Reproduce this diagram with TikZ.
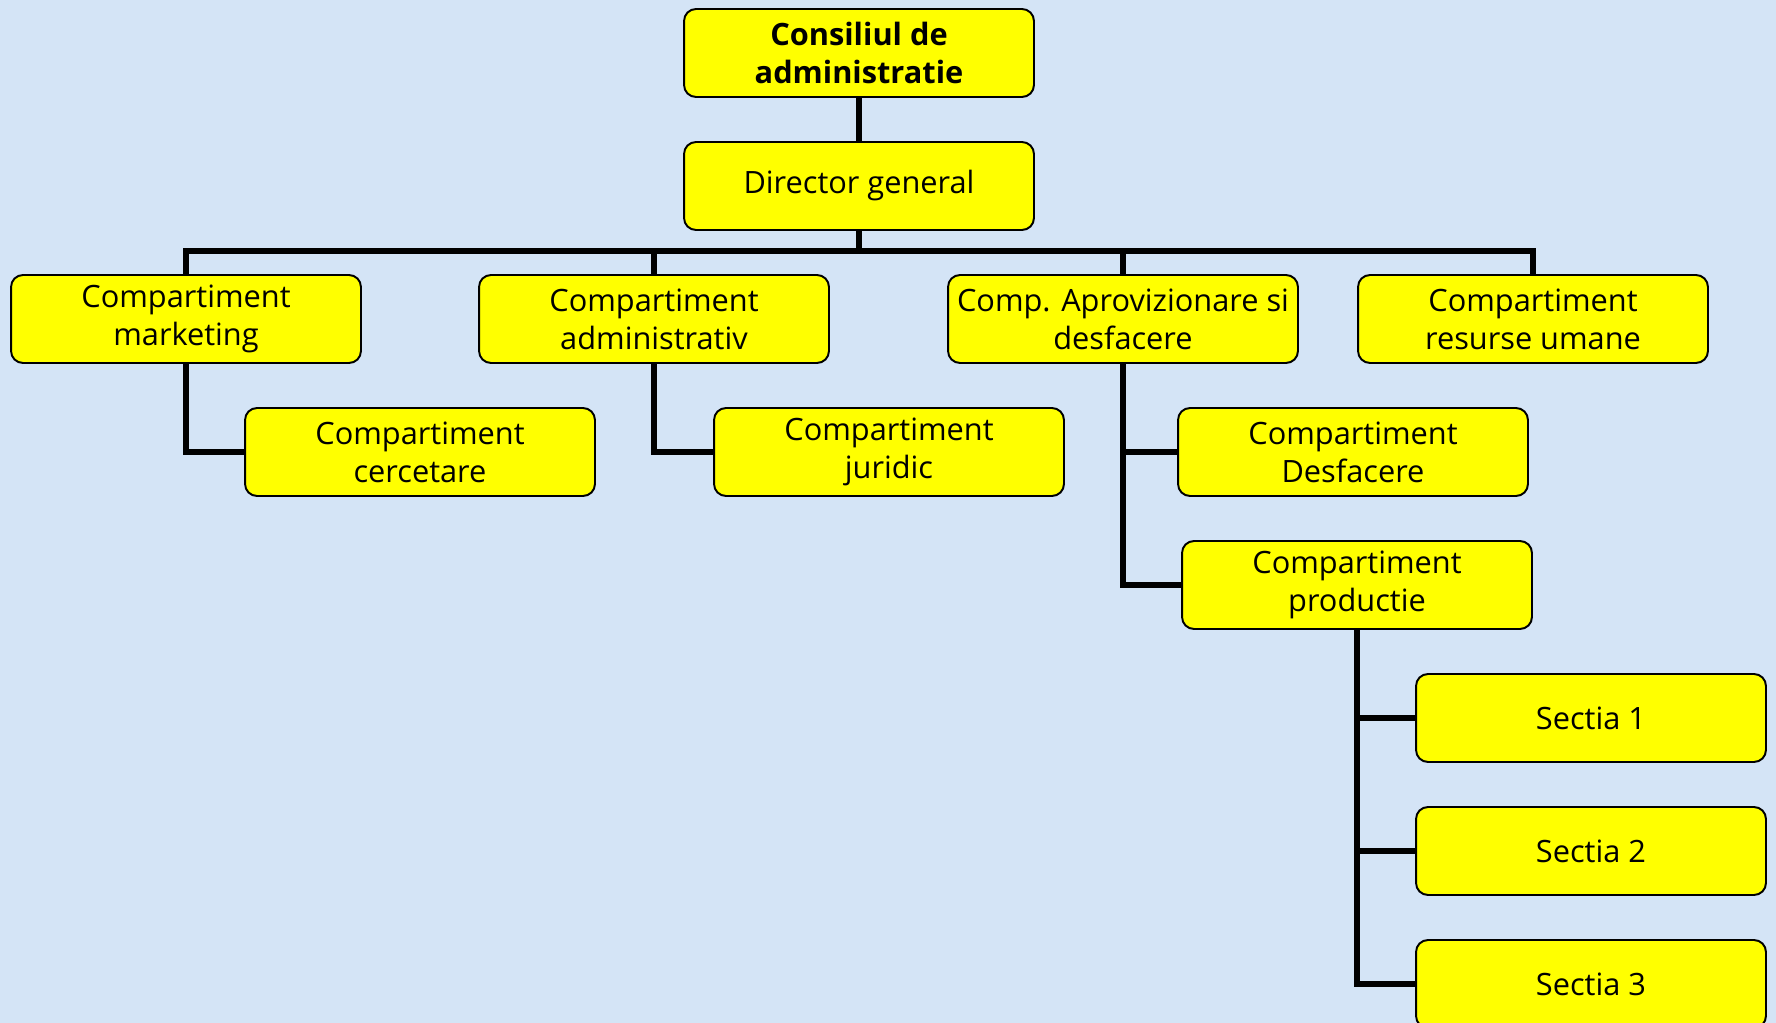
\documentclass[tikz,border=0pt]{standalone}
\usepackage{fontspec}
\setmainfont{Open Sans}
\definecolor{bgblue}{RGB}{212,228,246}
\definecolor{boxyellow}{RGB}{255,255,0}
\tikzset{
  unit/.style={draw=black, fill=boxyellow, line width=1.1pt, rounded corners=0.24cm,
    minimum width=7cm, minimum height=1.76cm, inner sep=2pt, align=center,
    font=\fontsize{17.5}{21.5}\selectfont},
  conn/.style={line width=3.8pt, black}
}
\begin{document}
\begin{tikzpicture}[x=0.02cm, y=-0.02cm]
  \fill[bgblue] (0,0) rectangle (1776,1023);
  \useasboundingbox (0,0) rectangle (1776,1023);
  \clip (0,0) rectangle (1776,1023);
  % top of the chart
  \node[unit, font=\fontsize{17.5}{21.5}\selectfont\bfseries] (cons) at (859,53) {Consiliul de\\administratie};
  \node[unit] (dir) at (859,186) {Director general};
  % compartments
  \node[unit] (mark) at (186,319) {Compartiment\\marketing};
  \node[unit] (adm) at (654,319) {Compartiment\\administrativ};
  \node[unit] (aprov) at (1123,319) {Comp. Aprovizionare si\\desfacere};
  \node[unit] (resum) at (1533,319) {Compartiment\\resurse umane};
  \node[unit] (cerc) at (420,452) {Compartiment\\cercetare};
  \node[unit] (jur) at (889,452) {Compartiment\\juridic};
  \node[unit] (desf) at (1353,452) {Compartiment\\Desfacere};
  \node[unit] (prod) at (1357,585) {Compartiment\\productie};
  % sections
  \foreach \n/\y/\t in {s1/718/Sectia 1,s2/851/Sectia 2,s3/984/Sectia 3}
   {
    \node[unit] (\n) at (1591,\y) {\t};
   }
  \coordinate (bus) at (859,251);
  \draw[conn] (cons) -- (dir);
  \draw[conn] (dir.south) -- (dir.south |- bus);
  \draw[conn] (mark.north) |- (bus) -| (resum.north);
  \foreach \n in {adm,aprov}
   {
    \draw[conn] (\n.north) -- (\n.north |- bus);
   }
  \draw[conn] (mark.south) |- (cerc.west);
  \draw[conn] (adm.south) |- (jur.west);
  \draw[conn] (aprov.south) |- (prod.west);
  \draw[conn] (aprov.south |- desf.west) -- (desf.west);
  \draw[conn] (prod.south) |- (s3.west);
  \foreach \n in {s1,s2}
   {
    \draw[conn] (prod.south |- \n.west) -- (\n.west);
   }
\end{tikzpicture}
\end{document}
